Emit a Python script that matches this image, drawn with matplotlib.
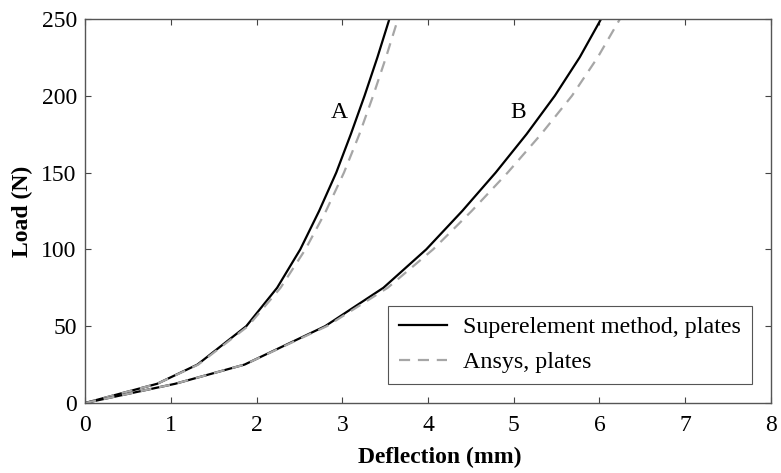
import numpy as np
import matplotlib.pyplot as plt

plt.rcParams['font.family'] = ['Liberation Serif', 'DejaVu Serif']
plt.rcParams['mathtext.fontset'] = 'stix'

# load levels (N) and deflections (mm)
load = [0, 12.5, 25, 50, 75, 100, 125, 150, 175, 200, 225, 250]
a_super = [0, 0.84, 1.31, 1.88, 2.24, 2.51, 2.73, 2.93, 3.10, 3.26, 3.41, 3.55]
a_ansys = [0, 0.84, 1.32, 1.90, 2.28, 2.57, 2.81, 3.02, 3.20, 3.36, 3.51, 3.65]
b_super = [0, 1.05, 1.86, 2.80, 3.48, 3.98, 4.40, 4.79, 5.15, 5.48, 5.77, 6.02]
b_ansys = [0, 1.05, 1.86, 2.82, 3.53, 4.06, 4.51, 4.93, 5.32, 5.68, 5.98, 6.24]

xticks = [0, 1, 2, 3, 4, 5, 6, 7, 8]
yticks = [0, 50, 100, 150, 200, 250]

fig = plt.figure(figsize=(7.81, 4.73), dpi=100)
ax = fig.add_axes([0.109, 0.148, 0.878, 0.812])

sty_s = dict(color='black', lw=1.6)
sty_a = dict(color='#a6a6a6', lw=1.6, dashes=(5, 3.5))

ax.plot(a_super, load, label='Superelement method, plates', **sty_s)
ax.plot(a_ansys, load, label='Ansys, plates', **sty_a)
ax.plot(b_super, load, **sty_s)
ax.plot(b_ansys, load, **sty_a)

ax.text(2.96, 189, 'A', fontsize=17, ha='center', va='center')
ax.text(5.05, 189, 'B', fontsize=17, ha='center', va='center')

ax.set_xlim(0, 8)
ax.set_ylim(0, 250)
ax.set_xticks(xticks)
ax.set_yticks(yticks)
ax.tick_params(direction='in', length=4, width=0.8, top=True, right=True,
               labelsize=17, colors='#444444', labelcolor='black')
ax.tick_params(axis='x', pad=9)
ax.tick_params(axis='y', pad=6)
for s in ax.spines.values():
    s.set_color('#555555')
    s.set_linewidth(1.0)

ax.set_xlabel('Deflection (mm)', fontsize=17, fontweight='bold')
ax.xaxis.set_label_coords(0.5175, -0.113)
ax.set_ylabel('Load (N)', fontsize=17, fontweight='bold', labelpad=6)

leg = ax.legend(loc='lower right', bbox_to_anchor=(0.972, 0.049), fontsize=17.3,
                fancybox=False, framealpha=1, edgecolor='#555555',
                handlelength=2.0, borderpad=0.45, labelspacing=0.55,
                handletextpad=0.65, borderaxespad=0)
leg.get_frame().set_linewidth(0.8)

fig.savefig('out.png', dpi=100)
